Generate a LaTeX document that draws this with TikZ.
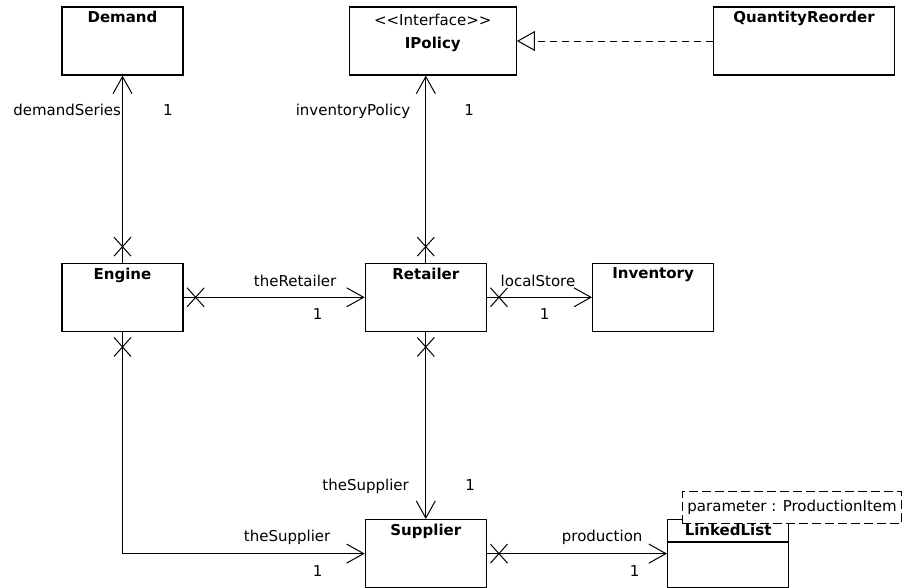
\documentclass[tikz,border=0pt]{standalone}
\usepackage{fontspec}
\setmainfont{DejaVu Sans}
\usetikzlibrary{positioning,arrows.meta,shapes.misc}
\tikzset{
  >={Straight Barb[length=17pt,width=19pt]},
  scls/.style={draw,line width=1.3pt,minimum width=121pt,minimum height=68pt,
               inner sep=0pt,label={[stitle]north:#1}},
  stitle/.style={anchor=north,inner sep=0pt,yshift=-5pt,align=center,
                 font=\fontsize{15}{23}\selectfont\bfseries},
  sassoc/.style={->,line width=1pt},
  sx/.style={cross out,draw,line width=1pt,inner sep=0pt,
             minimum width=16pt,minimum height=18pt},
  srole/.style={inner sep=1pt,anchor=base},
  sreal/.style={-{Triangle[open,length=18pt,width=20pt]},line width=1pt,
                dash pattern=on 6.5pt off 5.5pt},
  snote/.style={draw,line width=1pt,dash pattern=on 9pt off 4pt,fill=white,
                inner xsep=5pt,minimum height=32pt},
}
\begin{document}
\begin{tikzpicture}[x=1pt,y=-1pt,node distance=187pt and 181pt,
    font=\fontsize{15}{18}\selectfont]
  \useasboundingbox (0,0) rectangle (917,587);
  % classes
  \node[scls=Demand] (demand) at (122.5,41) {};
  \node[scls=Engine,below=of demand] (engine) {};
  \node[scls=Retailer,right=of engine] (retailer) {};
  \node[scls=Inventory,right=105pt of retailer] (inventory) {};
  \node[scls=Supplier,below=of retailer] (supplier) {};
  \node[scls=LinkedList,right=180pt of supplier] (linked) {};
  \node[scls={{\mdseries\rule{0pt}{14pt}<{}<Interface>{}>}\\IPolicy},
        minimum width=167pt,above=of retailer,xshift=7pt] (ipolicy) {};
  \node[scls=QuantityReorder,minimum width=181pt,right=196pt of ipolicy] (reorder) {};
  \draw[line width=1.3pt] ([yshift=-23pt]linked.north west) -- ([yshift=-23pt]linked.north east);
  \node[snote,anchor=south west] (param) at ([shift={(15pt,-5pt)}]linked.north west)
    {parameter : ProductionItem};
  % associations
  \draw[sassoc] (engine) -- node[sx,at start,yshift=16pt] (x1) {}
    node[srole,anchor=base east,pos=.786] (r1) {demandSeries}
    node[srole,anchor=base west,pos=.786,xshift=39pt] (m1) {1} (demand);
  \draw[sassoc] (retailer) -- node[sx,at start,yshift=16pt] (x2) {}
    node[srole,anchor=base east,pos=.786,xshift=-14pt] (r2) {inventoryPolicy}
    node[srole,anchor=base west,pos=.786,xshift=37pt] (m2) {1} (retailer |- ipolicy.south);
  \draw[sassoc] (engine) -- node[sx,at start,xshift=12pt] (x3) {}
    node[srole,pos=.616,yshift=11pt] (r3) {theRetailer}
    node[srole,pos=.74,yshift=-22pt] (m3) {1} (retailer);
  \draw[sassoc] (retailer) -- node[sx,at start,xshift=12pt] (x4) {}
    node[srole,pos=.486,yshift=11pt] (r4) {localStore}
    node[srole,pos=.55,yshift=-22pt] (m4) {1} (inventory);
  \draw[sassoc] (retailer) -- node[sx,at start,yshift=-15pt] (x5) {}
    node[srole,anchor=base east,pos=.85,xshift=-15.5pt] (r5) {theSupplier}
    node[srole,anchor=base west,pos=.85,xshift=38pt] (m5) {1} (supplier);
  \draw[sassoc] (engine) |- node[sx,at start,yshift=-15pt] (x6) {}
    node[srole,pos=.84,yshift=12pt] (r6) {theSupplier}
    node[srole,pos=.903,yshift=-23pt] (m6) {1} (supplier);
  \draw[sassoc] (supplier) -- node[sx,at start,xshift=12pt] (x7) {}
    node[srole,pos=.64,yshift=12pt] (r7) {production}
    node[srole,pos=.82,yshift=-23pt] (m7) {1} (linked);
  % realization
  \draw[sreal] (reorder) -- (ipolicy);
\end{tikzpicture}
\end{document}
